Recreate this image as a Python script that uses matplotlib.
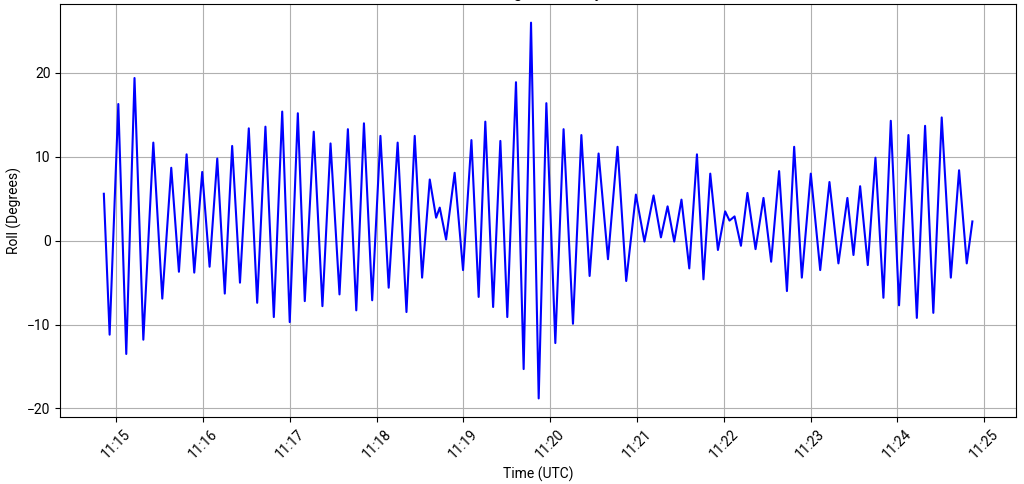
import matplotlib
matplotlib.use("Agg")
import matplotlib.pyplot as plt
import matplotlib.dates as mdates
import pandas as pd

# Seconds after 11:15:00 UTC (turning points)
seconds = [
    -8.6, -4.6, 1.4, 6.9, 12.6, 18.7, 25.6, 31.8, 38.0, 43.3,
    48.6, 53.9, 59.4, 64.5, 69.8, 75.0, 80.1, 85.5, 91.6, 97.4,
    103.1, 108.9, 114.7, 119.9, 125.5, 130.3, 136.5, 142.5, 148.1, 154.3,
    160.1, 165.9, 171.2, 176.9, 182.6, 188.3, 194.5, 200.6, 206.3, 211.4,
    216.7, 221.1, 223.6, 228.0, 233.9, 239.7, 245.5, 250.5, 255.1, 260.5,
    265.5, 270.3, 276.3, 281.6, 286.7, 292.0, 297.3, 303.5, 309.2, 315.7,
    321.5, 327.2, 333.4, 339.9, 346.5, 352.5, 359.2, 365.1, 371.4, 376.5,
    381.1, 385.7, 390.7, 396.1, 401.4, 405.9, 410.6, 415.9, 420.9, 423.9,
    427.4, 431.8, 436.3, 441.9, 447.4, 452.7, 458.2, 463.6, 468.6, 473.9,
    480.1, 486.6, 493.0, 499.2, 505.4, 509.6, 514.2, 519.5, 524.8, 530.3,
    535.4, 541.1, 547.6, 553.4, 559.1, 564.8, 570.6, 576.9, 582.6, 587.9,
    591.8,
]
roll_deg = [
    5.6, -11.2, 16.3, -13.5, 19.4, -11.8, 11.7, -6.9, 8.7, -3.7,
    10.3, -3.8, 8.2, -3.1, 9.8, -6.3, 11.3, -5.0, 13.4, -7.4,
    13.6, -9.1, 15.4, -9.7, 15.2, -7.2, 13.0, -7.8, 11.6, -6.4,
    13.3, -8.3, 14.0, -7.1, 12.5, -5.6, 11.7, -8.5, 12.5, -4.4,
    7.3, 2.75, 3.95, 0.15, 8.1, -3.5, 12.0, -6.7, 14.2, -7.9,
    11.9, -9.1, 18.9, -15.3, 26.0, -18.8, 16.4, -12.2, 13.3, -9.9,
    12.6, -4.2, 10.4, -2.2, 11.2, -4.8, 5.5, -0.1, 5.4, 0.4,
    4.1, -0.1, 4.9, -3.3, 10.3, -4.6, 8.0, -1.1, 3.5, 2.4,
    2.9, -0.6, 5.7, -1.0, 5.1, -2.5, 8.3, -6.0, 11.2, -4.4,
    8.0, -3.5, 7.0, -2.7, 5.1, -1.7, 6.5, -2.9, 9.9, -6.8,
    14.3, -7.7, 12.6, -9.2, 13.7, -8.6, 14.7, -4.4, 8.4, -2.7,
    2.3,
]
start_time = "2024-01-01 11:15:00"
title_text = "Vessel Roll Angle in Heavy Weather"
x_label = "Time (UTC)"
y_label = "Roll (Degrees)"

times = pd.Timestamp(start_time) + pd.to_timedelta(seconds, unit="s")

plt.rcParams["font.family"] = ["Roboto", "DejaVu Sans"]

fig = plt.figure(figsize=(10.24, 4.84), dpi=100)
ax = fig.add_axes([0.059, 0.138, 0.933, 0.854])
ax.plot(times, roll_deg, color="blue", linewidth=1.5)

ax.xaxis.set_major_locator(mdates.MinuteLocator())
ax.xaxis.set_major_formatter(mdates.DateFormatter("%H:%M"))
plt.setp(ax.get_xticklabels(), rotation=45)
ax.tick_params(labelsize=10)
ax.set_yticks([-20, -10, 0, 10, 20])
ax.grid(True, color="#b0b0b0", linewidth=0.8)
ax.set_axisbelow(True)
ax.set_xlabel(x_label, fontsize=10)
ax.set_ylabel(y_label, fontsize=10)
ax.set_title(title_text, fontsize=12, pad=4)

fig.savefig("out.png", dpi=100)
